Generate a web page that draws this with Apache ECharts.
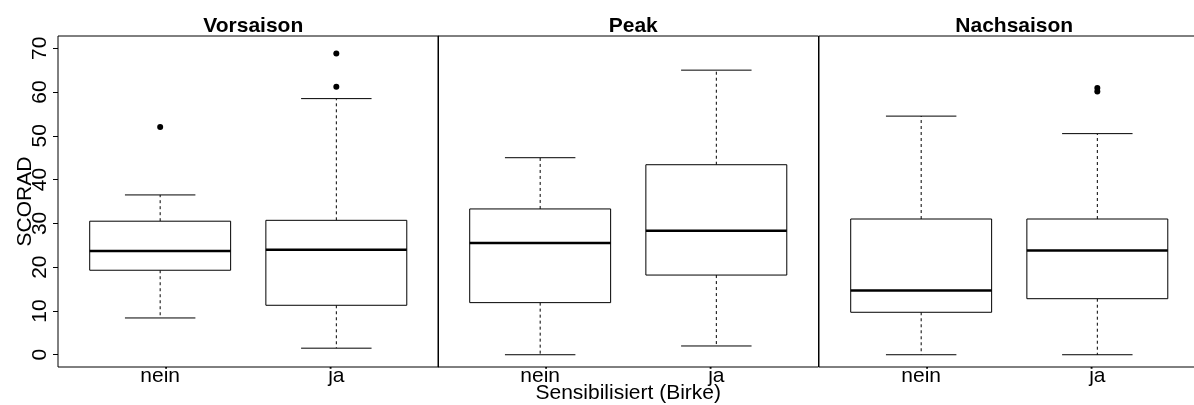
<!DOCTYPE html>
<html>
<head>
<meta charset="utf-8">
<script src="https://cdn.jsdelivr.net/npm/echarts@6/dist/echarts.min.js"></script>
<style>
html,body{margin:0;padding:0;background:#fff;}
#chart{width:1194px;height:405px;}
</style>
</head>
<body>
<div id="chart"></div>
<script>
// ---- data ----
const panelTitles = ['Vorsaison', 'Peak', 'Nachsaison'];
const categories = ['nein', 'ja'];
const yTicks = [0, 10, 20, 30, 40, 50, 60, 70];
// [min (lower whisker), Q1, median, Q3, max (upper whisker)] for nein, ja
const vorsaisonStats = [[8.4, 19.3, 23.7, 30.5, 36.5], [1.5, 11.3, 24.0, 30.7, 58.5]];
const peakStats = [[0.0, 11.9, 25.5, 33.3, 45.0], [2.0, 18.2, 28.3, 43.4, 65.0]];
const nachsaisonStats = [[0.0, 9.7, 14.7, 31.0, 54.5], [0.0, 12.8, 23.8, 31.0, 50.5]];
// outliers per category [nein, ja]
const vorsaisonOutliers = [[52.0], [61.2, 68.8]];
const peakOutliers = [[], []];
const nachsaisonOutliers = [[], [60.1, 60.9]];
const yTitle = 'SCORAD';
const xTitle = 'Sensibilisiert (Birke)';

const allStats = [vorsaisonStats, peakStats, nachsaisonStats];
const allOutliers = [vorsaisonOutliers, peakOutliers, nachsaisonOutliers];

const FONT = '"Liberation Sans", Arial, Helvetica, sans-serif';
const panelLefts = [58, 438, 819];
const panelWidth = 380.5;
const gridTop = 36, gridHeight = 331;

function renderBox(params, api) {
  const x = api.value(0);
  const lo = api.value(1), q1 = api.value(2), med = api.value(3), q3 = api.value(4), hi = api.value(5);
  const p = (xx, yy) => api.coord([xx, yy]);
  const tl = p(x - 0.4, q3), br = p(x + 0.4, q1);
  const ml = p(x - 0.4, med), mr = p(x + 0.4, med);
  const wq3 = p(x, q3), whi = p(x, hi), wq1 = p(x, q1), wlo = p(x, lo);
  const chl = p(x - 0.2, hi), chr = p(x + 0.2, hi);
  const cll = p(x - 0.2, lo), clr = p(x + 0.2, lo);
  const dashed = {stroke: '#000', lineWidth: 1, lineDash: [3, 3]};
  const solid = {stroke: '#000', lineWidth: 1};
  return {
    type: 'group',
    children: [
      {type: 'line', shape: {x1: wq3[0], y1: wq3[1], x2: whi[0], y2: whi[1]}, style: dashed},
      {type: 'line', shape: {x1: wq1[0], y1: wq1[1], x2: wlo[0], y2: wlo[1]}, style: dashed},
      {type: 'line', shape: {x1: chl[0], y1: chl[1], x2: chr[0], y2: chr[1]}, style: solid},
      {type: 'line', shape: {x1: cll[0], y1: cll[1], x2: clr[0], y2: clr[1]}, style: solid},
      {type: 'rect', shape: {x: tl[0], y: tl[1], width: br[0] - tl[0], height: br[1] - tl[1]},
        style: {fill: '#fff', stroke: '#000', lineWidth: 1}},
      {type: 'line', shape: {x1: ml[0], y1: ml[1], x2: mr[0], y2: mr[1]}, style: {stroke: '#000', lineWidth: 2.5}}
    ]
  };
}

const grids = [], xAxes = [], yAxes = [], series = [], titles = [];
panelTitles.forEach((t, i) => {
  grids.push({left: panelLefts[i], top: gridTop, width: panelWidth, height: gridHeight,
    containLabel: false, outerBoundsMode: 'none',
    show: true, borderColor: '#000', borderWidth: 1, backgroundColor: 'transparent'});
  titles.push({text: t, left: panelLefts[i] + panelWidth / 2, top: 11, textAlign: 'center',
    textStyle: {fontFamily: FONT, fontSize: 21, fontWeight: 'bold', color: '#000'}});
  xAxes.push({
    gridIndex: i, type: 'value', min: 0.42, max: 2.58,
    axisLine: {show: false}, axisTick: {show: false}, splitLine: {show: false},
    axisLabel: {customValues: [1, 2], formatter: v => categories[Math.round(v) - 1],
      fontFamily: FONT, fontSize: 21, color: '#000', margin: -1},
    name: i === 1 ? xTitle : '', nameLocation: 'middle', nameGap: 16, nameMoveOverlap: false,
    nameTextStyle: {fontFamily: FONT, fontSize: 21, color: '#000'}
  });
  yAxes.push({
    gridIndex: i, type: 'value', min: -2.8, max: 72.8,
    axisLine: {show: false}, splitLine: {show: false},
    axisTick: {show: i === 0, customValues: yTicks, length: 5, lineStyle: {color: '#000'}},
    axisLabel: {show: i === 0, customValues: yTicks, rotate: 90, margin: 7,
      fontFamily: FONT, fontSize: 21, color: '#000'},
    name: i === 0 ? yTitle : '', nameLocation: 'middle', nameGap: 22, nameRotate: 90, nameMoveOverlap: false,
    nameTextStyle: {fontFamily: FONT, fontSize: 21, color: '#000'}
  });
  series.push({
    type: 'custom', xAxisIndex: i, yAxisIndex: i, renderItem: renderBox, silent: true,
    data: allStats[i].map((s, k) => [k + 1].concat(s))
  });
  const pts = [];
  allOutliers[i].forEach((arr, k) => arr.forEach(v => pts.push([k + 1, v])));
  series.push({
    type: 'scatter', xAxisIndex: i, yAxisIndex: i, silent: true,
    symbol: 'circle', symbolSize: 6, itemStyle: {color: '#000', opacity: 1}, data: pts
  });
});

const chart = echarts.init(document.getElementById('chart'), null, {renderer: 'canvas'});
chart.setOption({
  animation: false,
  backgroundColor: '#fff',
  title: titles,
  grid: grids,
  xAxis: xAxes,
  yAxis: yAxes,
  series: series
});
</script>
</body>
</html>
